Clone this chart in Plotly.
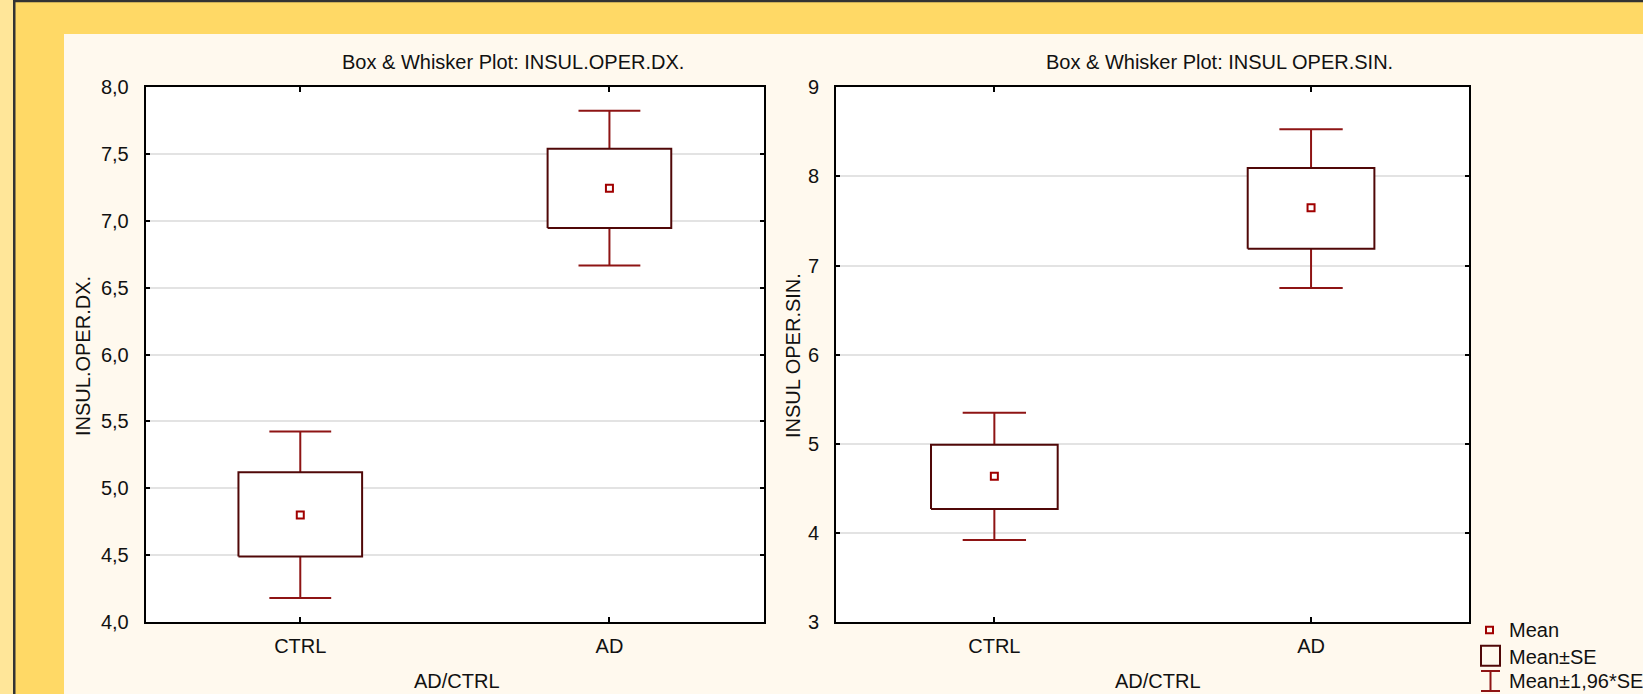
import plotly.graph_objects as go

W, H = 1643, 694

# ---------------- data ----------------
groups = ["CTRL", "AD"]

dx_mean = [4.80, 7.245]
dx_se_lo = [4.49, 6.948]
dx_se_hi = [5.12, 7.540]
dx_ci_lo = [4.18, 6.667]
dx_ci_hi = [5.425, 7.825]

sin_mean = [4.636, 7.648]
sin_se_lo = [4.269, 7.188]
sin_se_hi = [4.990, 8.094]
sin_ci_lo = [3.921, 6.747]
sin_ci_hi = [5.347, 8.528]

dx_ticks = [4.0, 4.5, 5.0, 5.5, 6.0, 6.5, 7.0, 7.5, 8.0]
dx_ticktext = ["4,0", "4,5", "5,0", "5,5", "6,0", "6,5", "7,0", "7,5", "8,0"]
sin_ticks = [3, 4, 5, 6, 7, 8, 9]
sin_ticktext = ["3", "4", "5", "6", "7", "8", "9"]

titles = ["Box & Whisker Plot: INSUL.OPER.DX.", "Box & Whisker Plot: INSUL OPER.SIN."]
ytitles = ["INSUL.OPER.DX.", "INSUL OPER.SIN."]
xtitle = "AD/CTRL"
legend_labels = ["Mean", "Mean\u00b1SE", "Mean\u00b11,96*SE"]

# ---------------- styling ----------------
FONT = "Liberation Sans, Arial, sans-serif"
FS = 20
TXT = "#111111"
BOX_C = "#500808"
WHISK_C = "#8E1414"
MEAN_C = "#A00000"
CREAM = "#FFF9EE"
YELLOW = "#FFD966"
LIGHT = "#FFE699"
DARK = "#333333"

BOX_HW = 0.2
CAP_HW = 0.1


def px(x):
    return x / W


def py(y):
    return 1 - y / H


fig = go.Figure()


def add_group(xa, ya, mean, se_lo, se_hi, ci_lo, ci_hi):
    wx, wy = [], []
    bx, by = [], []
    for i in range(len(groups)):
        c = i
        wx += [c, c, None, c - CAP_HW, c + CAP_HW, None]
        wy += [se_hi[i], ci_hi[i], None, ci_hi[i], ci_hi[i], None]
        wx += [c, c, None, c - CAP_HW, c + CAP_HW, None]
        wy += [se_lo[i], ci_lo[i], None, ci_lo[i], ci_lo[i], None]
        bx += [c - BOX_HW, c + BOX_HW, c + BOX_HW, c - BOX_HW, c - BOX_HW, None]
        by += [se_lo[i], se_lo[i], se_hi[i], se_hi[i], se_lo[i], None]
    fig.add_trace(go.Scatter(x=wx, y=wy, mode="lines", xaxis=xa, yaxis=ya,
                             line=dict(color=WHISK_C, width=2), hoverinfo="skip",
                             showlegend=False))
    fig.add_trace(go.Scatter(x=bx, y=by, mode="lines", fill="toself", fillcolor="white",
                             xaxis=xa, yaxis=ya, line=dict(color=BOX_C, width=2),
                             hoverinfo="skip", showlegend=False))
    fig.add_trace(go.Scatter(x=list(range(len(groups))), y=mean, mode="markers",
                             xaxis=xa, yaxis=ya,
                             marker=dict(symbol="square-open", size=7, color=MEAN_C,
                                         line=dict(width=2, color=MEAN_C)),
                             showlegend=False))


add_group("x", "y", dx_mean, dx_se_lo, dx_se_hi, dx_ci_lo, dx_ci_hi)
add_group("x2", "y2", sin_mean, sin_se_lo, sin_se_hi, sin_ci_lo, sin_ci_hi)

ydom = [py(622), py(87.3)]
xcommon = dict(range=[-0.5, 1.5], tickvals=[0, 1], ticktext=groups, showgrid=False,
               zeroline=False, showline=True, linewidth=2, linecolor="black",
               mirror="ticks", ticks="inside", ticklen=5, tickwidth=1.5, tickcolor="black",
               ticklabelstandoff=5, tickfont=dict(family=FONT, size=FS, color=TXT),
               automargin=False, fixedrange=True)
ycommon = dict(showgrid=True, gridcolor="#E3E3E3", gridwidth=2, zeroline=False,
               showline=True, linewidth=2, linecolor="black", mirror="ticks",
               ticks="inside", ticklen=4, tickwidth=1.5, tickcolor="black",
               ticklabelstandoff=11, tickfont=dict(family=FONT, size=FS, color=TXT),
               automargin=False, fixedrange=True)

fig.update_layout(
    width=W, height=H, autosize=False,
    margin=dict(l=0, r=0, t=0, b=0, pad=0, autoexpand=False),
    paper_bgcolor=CREAM, plot_bgcolor="white",
    font=dict(family=FONT, size=FS, color=TXT),
    showlegend=False,
    xaxis=dict(domain=[px(145.7), px(764)], anchor="y", **xcommon),
    xaxis2=dict(domain=[px(836), px(1469.4)], anchor="y2", **xcommon),
    yaxis=dict(domain=ydom, anchor="x", range=[4, 8], tickvals=dx_ticks,
               ticktext=dx_ticktext, **ycommon),
    yaxis2=dict(domain=ydom, anchor="x2", range=[3, 9], tickvals=sin_ticks,
                ticktext=sin_ticktext, **ycommon),
)

# ---------------- frame decorations ----------------
shapes = [
    dict(type="rect", xref="paper", yref="paper", x0=px(0), x1=px(W), y0=py(0), y1=py(34),
         fillcolor=YELLOW, line_width=0, layer="below"),
    dict(type="rect", xref="paper", yref="paper", x0=px(0), x1=px(64), y0=py(0), y1=py(H),
         fillcolor=YELLOW, line_width=0, layer="below"),
    dict(type="rect", xref="paper", yref="paper", x0=px(0), x1=px(13), y0=py(0), y1=py(H),
         fillcolor=LIGHT, line_width=0, layer="below"),
    dict(type="rect", xref="paper", yref="paper", x0=px(13), x1=px(15.5), y0=py(0), y1=py(H),
         fillcolor=DARK, line_width=0, layer="below"),
    dict(type="rect", xref="paper", yref="paper", x0=px(13), x1=px(W), y0=py(0), y1=py(2.3),
         fillcolor=DARK, line_width=0, layer="below"),
    # legend icons
    dict(type="rect", xref="paper", yref="paper", x0=px(1486), x1=px(1493), y0=py(633.3), y1=py(626.7),
         line=dict(color=MEAN_C, width=2), fillcolor="rgba(0,0,0,0)"),
    dict(type="rect", xref="paper", yref="paper", x0=px(1481), x1=px(1500), y0=py(665.7), y1=py(645.7),
         line=dict(color=BOX_C, width=2), fillcolor="rgba(0,0,0,0)"),
    dict(type="line", xref="paper", yref="paper", x0=px(1481), x1=px(1500), y0=py(671), y1=py(671),
         line=dict(color=WHISK_C, width=2)),
    dict(type="line", xref="paper", yref="paper", x0=px(1490.5), x1=px(1490.5), y0=py(671), y1=py(691),
         line=dict(color=WHISK_C, width=2)),
    dict(type="line", xref="paper", yref="paper", x0=px(1481), x1=px(1500), y0=py(691), y1=py(691),
         line=dict(color=WHISK_C, width=2)),
]
fig.update_layout(shapes=shapes)

ann = []
for tx, cx in zip(titles, [513, 1219]):
    ann.append(dict(text=tx, xref="paper", yref="paper", x=px(cx), y=py(62.5),
                    xanchor="center", yanchor="middle", showarrow=False,
                    font=dict(family=FONT, size=FS, color=TXT)))
for tx, cx in zip(ytitles, [83, 793]):
    ann.append(dict(text=tx, xref="paper", yref="paper", x=px(cx), y=py(356),
                    xanchor="center", yanchor="middle", showarrow=False, textangle=-90,
                    font=dict(family=FONT, size=FS, color=TXT)))
for cx in [457, 1157.5]:
    ann.append(dict(text=xtitle, xref="paper", yref="paper", x=px(cx), y=py(693.5),
                    xanchor="center", yanchor="bottom", showarrow=False,
                    font=dict(family=FONT, size=FS, color=TXT)))
for tx, cy in zip(legend_labels, [630, 656.7, 681]):
    ann.append(dict(text=tx, xref="paper", yref="paper", x=px(1506.7), y=py(cy),
                    xanchor="left", yanchor="middle", showarrow=False,
                    font=dict(family=FONT, size=FS, color=TXT)))
fig.update_layout(annotations=ann)

fig.write_html("out.html", config={"displayModeBar": False},
               post_script="document.body.style.margin='0';document.body.style.overflow='hidden';")
